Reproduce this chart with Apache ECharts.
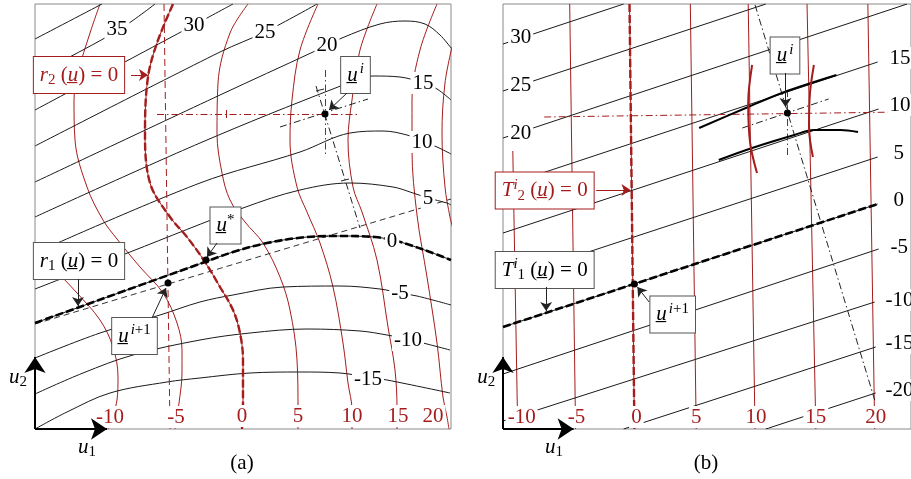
<!DOCTYPE html>
<html>
<head>
<meta charset="utf-8">
<script src="https://cdn.jsdelivr.net/npm/echarts@6/dist/echarts.min.js"></script>
<style>
  html, body { margin: 0; padding: 0; background: #fff; }
  #chart { width: 911px; height: 479px; }
</style>
</head>
<body>
<div id="chart"></div>
<script>
// Panel coordinates: u1 to the right, u2 upwards, origin at the lower-left corner of each panel.

// ---------- Panel (a): nonlinear residual contours ----------
const r1LevelsA = ['40', '35', '30', '25', '20', '15', '10', '5', '0', '-5', '-10', '-15'];
const r1CurvesA = [
  [[0, 390], [67, 425]],
  [[0, 354], [82, 398], [120, 425]],
  [[0, 319], [159, 404], [198, 425]],
  [[0, 283], [185, 377], [230, 397], [282, 425]],
  [[0, 247], [185, 334], [278, 377], [307, 391], [345, 405], [370, 408], [390, 405], [405, 394], [416, 381]],
  [[0, 212], [165, 286], [303, 342], [338, 353], [365, 352], [388, 346], [402, 340], [416, 329]],
  [[0, 176], [165, 246], [265, 277], [315, 296], [348, 298], [372, 294], [387, 288], [402, 282], [416, 275]],
  [[0, 140], [95, 177], [208, 221], [265, 239], [315, 246], [358, 242], [378, 236], [393, 231], [412, 226], [416, 224]],
  [[0, 106], [170, 167], [198, 177], [232, 186], [272, 192], [305, 193], [340, 192], [357, 189], [372, 185], [395, 177], [416, 169]],
  [[0, 71], [65, 96], [125, 114], [165, 127], [198, 134], [248, 142], [305, 143], [345, 140], [365, 136], [382, 133], [416, 124]],
  [[0, 35], [48, 56], [98, 74], [165, 89], [215, 96], [272, 100], [325, 98], [352, 94], [372, 90], [392, 85], [415, 79]],
  [[0, 0], [32, 17], [75, 36], [132, 47], [165, 51], [215, 56], [265, 57], [305, 56], [332, 52], [352, 49], [415, 36]]
];
const r1LabelsA = [
  [82, 400, '35'], [159, 404, '30'], [230, 397, '25'], [292, 384, '20'], [388, 346, '15'],
  [387, 287, '10'], [393, 231, '5'], [357, 188, '0'], [365, 136, '-5'], [373, 89, '-10'], [333, 50, '-15']
];

const r2LevelsA = ['-10', '-5', '0', '5', '10', '15', '20', '25'];
const r2CurvesA = [
  [[0, 177], [15, 164], [25, 154], [42, 136], [65, 109], [78, 82], [83, 52], [82, 29], [78, 14], [73, 0]],
  [[65, 425], [55, 396], [43, 356], [39, 329], [40, 289], [52, 242], [68, 209], [82, 190], [105, 162], [128, 136], [142, 106], [147, 79], [147, 56], [144, 26], [140, 0]],
  [[138, 425], [122, 386], [113, 352], [110, 299], [115, 246], [135, 212], [152, 192], [170, 167], [185, 142], [198, 119], [205, 96], [208, 69], [208, 26], [207, 0]],
  [[213, 425], [195, 396], [183, 346], [182, 296], [187, 256], [195, 229], [210, 207], [228, 186], [245, 152], [255, 119], [262, 69], [263, 19], [263, 0]],
  [[283, 425], [265, 379], [257, 329], [255, 289], [262, 242], [272, 217], [285, 186], [298, 142], [308, 86], [313, 46], [317, 19], [317, 0]],
  [[342, 425], [325, 379], [317, 329], [313, 289], [318, 242], [327, 217], [342, 169], [353, 102], [360, 59], [362, 19], [362, 0]],
  [[402, 425], [385, 379], [377, 329], [377, 279], [382, 214], [392, 152], [402, 86], [408, 32], [412, 12], [414, 0]],
  [[417, 382], [410, 346], [407, 296], [410, 242], [415, 212], [418, 200]]
];
const r2LabelsA = [[75, 12, '-10'], [141, 12, '-5'], [207, 13, '0'], [263, 13, '5'], [317, 13, '10'], [363, 13, '15'], [398, 13, '20']];

// Newton step construction in (a)
const linearR1A = [[0, 105], [416, 230]];
const linearR2A = [[129, 425], [135, 0]];
const crossHA = [[122, 315], [325, 315]];
const crossVA = [[290, 359], [290, 272]];
const steepA = [[281, 343], [325, 201]];
const shallowA = [[245, 302], [333, 330]];
const redTicksA = [[[191, 311], [191, 319]]];
const blackTicksA = [[[281, 338], [289, 340]], [[306, 248], [314, 250]]];
const pointsA = [[290, 315], [171, 169], [133, 146]];

// ---------- Panel (b): linearised model ----------
const t1LevelsB = ['30', '25', '20', '15', '10', '5', '0', '-5', '-10', '-15', '-20'];
const t1LinesB = [
  [[0, 385], [123, 425]],
  [[0, 338], [268, 425]],
  [[0, 291], [412, 425]],
  [[0, 243], [382, 367]],
  [[0, 196], [383, 320]],
  [[0, 149], [382, 272]],
  [[0, 102], [382, 225]],
  [[0, 55], [383, 180]],
  [[0, 8], [379, 127]],
  [[123, 0], [380, 82]],
  [[268, 0], [380, 36]]
];
const t1LabelsLeftB = [[18, 392, '30'], [18, 344, '25'], [18, 296, '20']];
const t1LabelsRightB = [[392, 371, '15'], [392, 324, '10'], [396, 276, '5'], [396, 229, '0'], [393, 182, '-5'], [388, 129, '-10'], [388, 86, '-15'], [388, 39, '-20']];

const t2LevelsB = ['-10', '-5', '0', '5', '10', '15', '20'];
const t2LinesB = [
  [[10, 278], [15, 0]],
  [[68, 425], [74, 0]],
  [[129, 425], [134, 0]],
  [[191, 425], [197, 0]],
  [[250, 425], [257, 0]],
  [[310, 425], [319, 0]],
  [[372, 425], [379, 0]]
];
const t2LabelsB = [[19, 12, '-10'], [75, 12, '-5'], [136, 12, '0'], [197, 12, '5'], [258, 12, '10'], [319, 12, '15'], [380, 12, '20']];

// local pieces of the true contours around u^i
const localR1B = [
  [[200, 301], [250, 322], [287, 337], [340, 354]],
  [[220, 269], [254, 281], [297, 294], [317, 299], [344, 299], [362, 297]]
];
const localR2B = [
  [[254, 364], [250, 326], [252, 286], [259, 256]],
  [[317, 364], [313, 336], [312, 302], [316, 272]]
];
const crossHB = [[42, 312], [407, 317]];
const crossVB = [[290, 339], [290, 272]];
const steepB = [[257, 424], [379, 29]];
const shallowB = [[244, 301], [332, 330]];
const pointsB = [[290, 316], [134, 145]];

// annotation boxes and their arrows
const boxAnchorsA = [[44, 354], [44, 168], [190.5, 203.5], [320.5, 354], [99.5, 93]];
const boxTextsA = [
  '{i|r}{sb|2}{n| (}{i|u\u0332}{n|) = 0}',
  '{i|r}{sb|1}{n| (}{i|u\u0332}{n|) = 0}',
  '{i|u\u0332}{sp|*}',
  '{i|u\u0332}{spi|i}',
  '{i|u\u0332}{spi|i}{sp|+1}'
];
const boxRedA = [true, false, false, false, false];
const arrowsA = [
  [[96, 354], [113, 354]],
  [[43, 150], [43, 123]],
  [[182, 186], [172, 172]],
  [[312, 336], [294, 319]],
  [[117, 111], [131, 141]]
];
const arrowRedA = [true, false, false, false, false];

const boxAnchorsB = [[287.5, 373.5], [42.5, 238.5], [42.5, 159], [173, 114.5]];
const boxTextsB = [
  '{i|u\u0332}{spi|i}',
  '{i|T}{spt|i}{sb|2}{n| (}{i|u\u0332}{n|) = 0}',
  '{i|T}{spt|i}{sb|1}{n| (}{i|u\u0332}{n|) = 0}',
  '{i|u\u0332}{spi|i}{sp|+1}'
];
const boxRedB = [false, true, false, false];
const arrowsB = [
  [[288, 356], [288, 322]],
  [[95, 239], [130, 239]],
  [[44, 142], [44, 118]],
  [[149, 127], [137, 142]]
];
const arrowRedB = [false, true, false, false];

const axisArrows = [[[0, 0], [0, 72]], [[0, 0], [72, 0]]];
const axisNames = [[-17, 52, '{i|u}{sb|2}'], [52, -18, '{i|u}{sb|1}']];
const captions = [[207, -34, '(a)'], [207, -34, '(b)']];

// ---------- styling ----------
const RED = '#a51c1c';
const INK = '#000';
const FONT = "'Liberation Serif', 'DejaVu Serif', serif";
const FS = 21;
const SOLID_ITEM = { opacity: 1 };

function richStyles(color) {
  const plain = { textBorderWidth: 0, textShadowBlur: 0, color: color, fontFamily: FONT, opacity: 1 };
  const base = Object.assign({}, plain, { fontSize: FS, lineHeight: 26 });
  const small = Object.assign({}, plain, { fontSize: 15, lineHeight: 15 });
  return {
    n: Object.assign({}, base),
    i: Object.assign({}, base, { fontStyle: 'italic' }),
    sb: Object.assign({}, small, { verticalAlign: 'bottom' }),
    sp: Object.assign({}, small, { verticalAlign: 'top' }),
    spi: Object.assign({}, small, { verticalAlign: 'top', fontStyle: 'italic', padding: [0, 0, 0, 2] }),
    spt: Object.assign({}, small, { verticalAlign: 'top', fontStyle: 'italic' })
  };
}

const series = [];

function curve(gi, data, color, width, dash, z, smooth) {
  series.push({
    type: 'line', xAxisIndex: gi, yAxisIndex: gi, data: data,
    showSymbol: false, symbol: 'none', smooth: smooth === undefined ? 0.35 : smooth,
    lineStyle: { color: color, width: width, type: dash || 'solid', cap: 'butt', opacity: 1 },
    z: z || 2, silent: true, animation: false
  });
}

function segs(gi, list, color, width, dash, z) {
  series.push({
    type: 'lines', coordinateSystem: 'cartesian2d', xAxisIndex: gi, yAxisIndex: gi,
    data: list.map(function (c) { return { coords: c }; }),
    symbol: 'none', clip: false,
    lineStyle: { color: color, width: width, type: dash || 'solid', opacity: 1, curveness: 0 },
    z: z || 3, silent: true, animation: false
  });
}

function arrows(gi, list, color, width, size, z) {
  series.push({
    type: 'lines', coordinateSystem: 'cartesian2d', xAxisIndex: gi, yAxisIndex: gi,
    data: list.map(function (c) { return { coords: c }; }),
    symbol: ['none', 'arrow'], symbolSize: size, clip: false,
    lineStyle: { color: color, width: width, opacity: 1, curveness: 0 },
    z: z || 7, silent: true, animation: false
  });
}

function texts(gi, list, color, opts) {
  opts = opts || {};
  series.push({
    type: 'scatter', xAxisIndex: gi, yAxisIndex: gi, symbolSize: 0, clip: false,
    itemStyle: SOLID_ITEM,
    data: list.map(function (t) { return { value: [t[0], t[1]], name: t[2] }; }),
    label: Object.assign({
      show: true, position: 'inside', formatter: '{b}', color: color, opacity: 1,
      textBorderWidth: 0, fontFamily: FONT, fontSize: FS, lineHeight: 22,
      backgroundColor: opts.bg === false ? 'transparent' : '#fff', padding: [0, 2]
    }, opts.label || {}),
    z: opts.z || 5, silent: true, animation: false
  });
}

function richTexts(gi, list, color, z) {
  series.push({
    type: 'scatter', xAxisIndex: gi, yAxisIndex: gi, symbolSize: 0, clip: false,
    itemStyle: SOLID_ITEM,
    data: list.map(function (t) { return { value: [t[0], t[1]], name: t[2] }; }),
    label: { show: true, position: 'inside', formatter: '{b}', opacity: 1, textBorderWidth: 0, rich: richStyles(color) },
    z: z || 5, silent: true, animation: false
  });
}

function boxes(gi, anchors, contents, redFlags) {
  anchors.forEach(function (a, k) {
    const col = redFlags[k] ? RED : INK;
    series.push({
      type: 'scatter', xAxisIndex: gi, yAxisIndex: gi, symbolSize: 0, clip: false,
      itemStyle: SOLID_ITEM,
      data: [{ value: a, name: contents[k] }],
      label: {
        show: true, position: 'inside', formatter: '{b}', opacity: 1, textBorderWidth: 0, rich: richStyles(col),
        backgroundColor: '#fff', borderColor: redFlags[k] ? RED : '#555', borderWidth: 1,
        padding: [5, 6, 5, 6]
      },
      z: 6, silent: true, animation: false
    });
  });
}

function dots(gi, pts) {
  series.push({
    type: 'scatter', xAxisIndex: gi, yAxisIndex: gi, data: pts, symbol: 'circle', symbolSize: 7,
    itemStyle: { color: '#000', opacity: 1 }, clip: false, z: 8, silent: true, animation: false
  });
}

const DASHDOT = [7, 3, 1.5, 3];

// ----- panel (a) -----
r2CurvesA.forEach(function (c) { curve(0, c, RED, 1, 'solid', 2); });
r1CurvesA.forEach(function (c) { curve(0, c, '#1a1a1a', 1, 'solid', 2); });
curve(0, r1CurvesA[r1LevelsA.indexOf('0')], '#000', 2.6, [8, 3], 3);
curve(0, r2CurvesA[r2LevelsA.indexOf('0')], RED, 2.4, [8, 3], 3);
segs(0, [linearR1A], '#333', 1, [6, 4], 3);
segs(0, [linearR2A], RED, 1, [7, 4], 3);
segs(0, [crossHA, crossVA], RED, 1, DASHDOT, 3);
segs(0, redTicksA, RED, 1, 'solid', 3);
segs(0, [steepA, shallowA], '#222', 1, DASHDOT, 3);
segs(0, blackTicksA, '#222', 1, 'solid', 3);
texts(0, r1LabelsA, INK);
texts(0, r2LabelsA, RED);
boxes(0, boxAnchorsA, boxTextsA, boxRedA);
arrows(0, arrowsA.filter(function (_, k) { return !arrowRedA[k]; }), '#222', 1, 9);
arrows(0, arrowsA.filter(function (_, k) { return arrowRedA[k]; }), RED, 1, 9);
arrows(0, axisArrows, '#000', 2, 16, 7);
dots(0, pointsA);
richTexts(0, axisNames, '#000');
texts(0, [captions[0]], '#000', { bg: false });

// ----- panel (b) -----
t2LinesB.forEach(function (c) { curve(1, c, RED, 1, 'solid', 2, false); });
t1LinesB.forEach(function (c) { curve(1, c, '#1a1a1a', 1, 'solid', 2, false); });
curve(1, t1LinesB[t1LevelsB.indexOf('0')], '#000', 2.6, [8, 3], 3, false);
curve(1, t2LinesB[t2LevelsB.indexOf('0')], RED, 2.4, [8, 3], 3, false);
localR1B.forEach(function (c) { curve(1, c, '#000', 2, 'solid', 3); });
localR2B.forEach(function (c) { curve(1, c, RED, 2, 'solid', 3); });
segs(1, [crossHB, crossVB], RED, 1, DASHDOT, 3);
segs(1, [steepB, shallowB], '#222', 1, DASHDOT, 3);
texts(1, t1LabelsLeftB, INK);
texts(1, t1LabelsRightB, INK, { label: { position: 'right', distance: 0 } });
texts(1, t2LabelsB, RED);
boxes(1, boxAnchorsB, boxTextsB, boxRedB);
arrows(1, arrowsB.filter(function (_, k) { return !arrowRedB[k]; }), '#222', 1, 9);
arrows(1, arrowsB.filter(function (_, k) { return arrowRedB[k]; }), RED, 1, 9);
arrows(1, axisArrows, '#000', 2, 16, 7);
dots(1, pointsB);
richTexts(1, axisNames, '#000');
texts(1, [captions[1]], '#000', { bg: false });

const frame = { show: true, borderColor: '#8a8a8a', borderWidth: 1, backgroundColor: 'transparent' };
const chart = echarts.init(document.getElementById('chart'), null, { renderer: 'canvas' });
chart.setOption({
  animation: false,
  grid: [
    Object.assign({ left: 35, top: 4, width: 416, height: 425 }, frame),
    Object.assign({ left: 503, top: 4, width: 416, height: 425 }, frame)
  ],
  xAxis: [
    { type: 'value', gridIndex: 0, min: 0, max: 416, show: false },
    { type: 'value', gridIndex: 1, min: 0, max: 416, show: false }
  ],
  yAxis: [
    { type: 'value', gridIndex: 0, min: 0, max: 425, show: false },
    { type: 'value', gridIndex: 1, min: 0, max: 425, show: false }
  ],
  series: series
});
</script>
</body>
</html>
